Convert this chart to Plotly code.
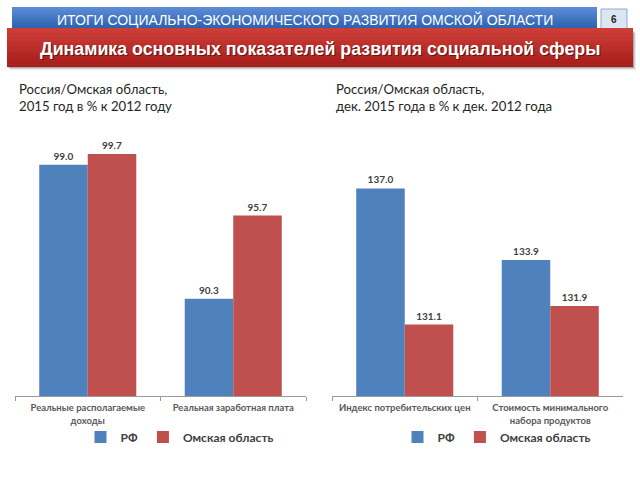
import plotly.graph_objects as go

# ---- data ----
left_categories = ["Реальные располагаемые<br>доходы", "Реальная заработная плата"]
left_rf = [99.0, 90.3]
left_omsk = [99.7, 95.7]

right_categories = ["Индекс потребительских цен", "Стоимость минимального<br>набора продуктов"]
right_rf = [137.0, 133.9]
right_omsk = [131.1, 131.9]

series_names = ["РФ", "Омская область"]
header_top = "ИТОГИ СОЦИАЛЬНО-ЭКОНОМИЧЕСКОГО РАЗВИТИЯ ОМСКОЙ ОБЛАСТИ"
header_main = "Динамика основных показателей развития социальной сферы"
page_no = "6"
left_sub = "Россия/Омская область,<br>2015 год в % к 2012 году"
right_sub = "Россия/Омская область,<br>дек. 2015 года в % к дек. 2012 года"

BLUE = "#4F81BD"
RED = "#C0504D"
W, H = 640, 480

def px_x(x):
    return x / W

def px_y(y):
    return 1 - y / H

fig = go.Figure()

lab_font = dict(family="Lato, 'Open Sans', sans-serif", size=10, color="#404040", weight="bold")

fig.add_trace(go.Bar(x=left_categories, y=left_rf, name=series_names[0], marker_color=BLUE,
                     text=[f"{v:.1f}" for v in left_rf], textposition="outside", textfont=lab_font,
                     cliponaxis=False, xaxis="x", yaxis="y", legend="legend"))
fig.add_trace(go.Bar(x=left_categories, y=left_omsk, name=series_names[1], marker_color=RED,
                     text=[f"{v:.1f}" for v in left_omsk], textposition="outside", textfont=lab_font,
                     cliponaxis=False, xaxis="x", yaxis="y", legend="legend"))
fig.add_trace(go.Bar(x=right_categories, y=right_rf, name=series_names[0], marker_color=BLUE,
                     text=[f"{v:.1f}" for v in right_rf], textposition="outside", textfont=lab_font,
                     cliponaxis=False, xaxis="x2", yaxis="y2", legend="legend2"))
fig.add_trace(go.Bar(x=right_categories, y=right_omsk, name=series_names[1], marker_color=RED,
                     text=[f"{v:.1f}" for v in right_omsk], textposition="outside", textfont=lab_font,
                     cliponaxis=False, xaxis="x2", yaxis="y2", legend="legend2"))

fig.update_traces(marker_line_width=0)

tick_font = dict(family="Lato, 'Open Sans', sans-serif", size=9.5, color="#595959", weight="bold")
xcommon = dict(type="category", showline=True, linecolor="#9a9a9a", linewidth=1,
               ticks="outside", tickson="boundaries", ticklen=4, tickcolor="#9a9a9a",
               tickfont=tick_font, ticklabelstandoff=3, showgrid=False, fixedrange=True)
ycommon = dict(visible=False, showgrid=False, fixedrange=True)

y_base = px_y(396)
y_top = px_y(140)

legend_font = dict(family="Lato, 'Open Sans', sans-serif", size=12, color="#404040", weight="bold")

fig.update_layout(
    width=W, height=H,
    margin=dict(l=0, r=0, t=0, b=0),
    paper_bgcolor="white", plot_bgcolor="white",
    barmode="group", bargap=0.333, bargroupgap=0,
    xaxis=dict(domain=[px_x(15), px_x(306)], anchor="y", **xcommon),
    yaxis=dict(domain=[y_base, y_top], range=[84.0, 100.6], anchor="x", **ycommon),
    xaxis2=dict(domain=[px_x(332), px_x(623)], anchor="y2", **xcommon),
    yaxis2=dict(domain=[y_base, y_top], range=[128.0, 139.1], anchor="x2", **ycommon),
    legend=dict(orientation="h", x=px_x(180), xanchor="center", y=px_y(437), yanchor="middle",
                font=legend_font, itemwidth=30, traceorder="normal", bgcolor="rgba(0,0,0,0)"),
    legend2=dict(orientation="h", x=px_x(497), xanchor="center", y=px_y(437), yanchor="middle",
                 font=legend_font, itemwidth=30, traceorder="normal", bgcolor="rgba(0,0,0,0)"),
    showlegend=True,
)

shapes = []
# blue banner with vertical gradient
blue_top = (92, 140, 214)
blue_bot = (40, 94, 172)
n = 12
y0, y1 = 7, 31
for i in range(n):
    t = i / (n - 1)
    c = tuple(int(blue_top[k] + (blue_bot[k] - blue_top[k]) * t) for k in range(3))
    ya = y0 + (y1 - y0) * i / n
    yb = y0 + (y1 - y0) * (i + 1) / n + 0.5
    shapes.append(dict(type="rect", xref="paper", yref="paper",
                       x0=px_x(12), x1=px_x(597), y0=px_y(yb), y1=px_y(ya),
                       fillcolor=f"rgb{c}", line_width=0, layer="below"))
# page number box
shapes.append(dict(type="rect", xref="paper", yref="paper",
                   x0=px_x(601), x1=px_x(627), y0=px_y(30), y1=px_y(9),
                   fillcolor="#dce6f2", line=dict(color="#8ea9cf", width=1), layer="below"))
# shadow under red banner
for i, a in enumerate([0.08, 0.12, 0.18]):
    off = 3 - i
    shapes.append(dict(type="rect", xref="paper", yref="paper",
                       x0=px_x(7 + off), x1=px_x(633 + off), y0=px_y(67 + off), y1=px_y(30 + off),
                       fillcolor=f"rgba(0,0,0,{a})", line_width=0, layer="below"))
# red banner gradient
red_top = (206, 62, 56)
red_bot = (168, 30, 26)
y0, y1 = 28, 67
n = 14
for i in range(n):
    t = i / (n - 1)
    c = tuple(int(red_top[k] + (red_bot[k] - red_top[k]) * t) for k in range(3))
    ya = y0 + (y1 - y0) * i / n
    yb = y0 + (y1 - y0) * (i + 1) / n + 0.5
    shapes.append(dict(type="rect", xref="paper", yref="paper",
                       x0=px_x(7), x1=px_x(633), y0=px_y(min(yb, y1)), y1=px_y(ya),
                       fillcolor=f"rgb{c}", line_width=0, layer="below"))
fig.update_layout(shapes=shapes)

annotations = [
    dict(text=header_top, x=px_x(304.5), y=px_y(19.5), xref="paper", yref="paper",
         showarrow=False, xanchor="center", yanchor="middle",
         font=dict(family="'Liberation Sans', Arial, sans-serif", size=14, color="white")),
    dict(text=page_no, x=px_x(614), y=px_y(19.5), xref="paper", yref="paper",
         showarrow=False, xanchor="center", yanchor="middle",
         font=dict(family="'Liberation Sans', Arial, sans-serif", size=10, color="#1f1f1f", weight="bold")),
    dict(text=header_main, x=px_x(321), y=px_y(50), xref="paper", yref="paper",
         showarrow=False, xanchor="center", yanchor="middle",
         font=dict(family="'Liberation Sans', Arial, sans-serif", size=17.8, color="rgba(0,0,0,0.45)", weight="bold")),
    dict(text=header_main, x=px_x(320), y=px_y(49), xref="paper", yref="paper",
         showarrow=False, xanchor="center", yanchor="middle",
         font=dict(family="'Liberation Sans', Arial, sans-serif", size=17.8, color="white", weight="bold")),
    dict(text=left_sub, x=px_x(17), y=px_y(97), xref="paper", yref="paper",
         showarrow=False, xanchor="left", yanchor="middle", align="left",
         font=dict(family="Lato, 'Open Sans', sans-serif", size=13.2, color="#262626")),
    dict(text=right_sub, x=px_x(334), y=px_y(97), xref="paper", yref="paper",
         showarrow=False, xanchor="left", yanchor="middle", align="left",
         font=dict(family="Lato, 'Open Sans', sans-serif", size=13.2, color="#262626")),
]
fig.update_layout(annotations=annotations)

fig.write_html("out.html")
